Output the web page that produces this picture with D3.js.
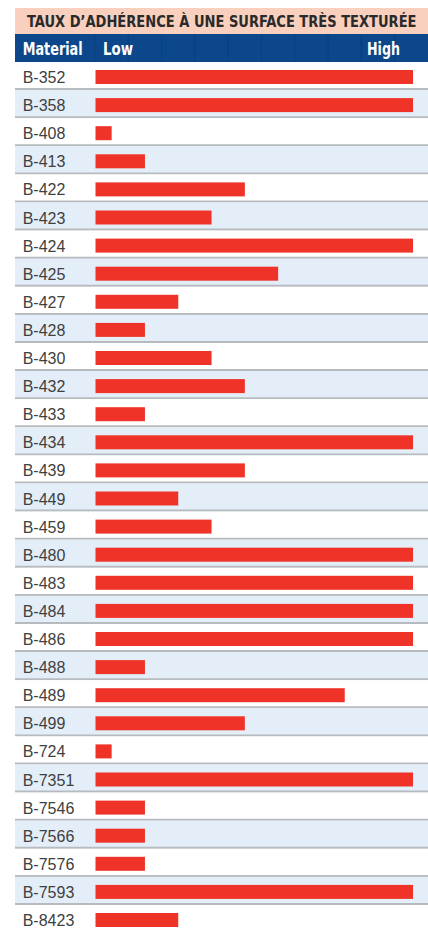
<!DOCTYPE html>
<html>
<head>
<meta charset="utf-8">
<script src="https://cdn.jsdelivr.net/npm/d3@7"></script>
<style>
  body { margin: 0; background: #fff; }
  svg { display: block; }
</style>
</head>
<body>
<svg id="chart" width="428" height="928"></svg>
<script>
const title = "TAUX D\u2019ADHÉRENCE À UNE SURFACE TRÈS TEXTURÉE";
const headers = ["Material", "Low", "High"];

const materials = ["B-352", "B-358", "B-408", "B-413", "B-422", "B-423", "B-424", "B-425",
  "B-427", "B-428", "B-430", "B-432", "B-433", "B-434", "B-439", "B-449", "B-459",
  "B-480", "B-483", "B-484", "B-486", "B-488", "B-489", "B-499", "B-724", "B-7351",
  "B-7546", "B-7566", "B-7576", "B-7593", "B-8423"];

// adhesion level on a 0-10 scale
const adhesion = [9.55, 9.55, 0.5, 1.5, 4.5, 3.5, 9.55, 5.5,
  2.5, 1.5, 3.5, 4.5, 1.5, 9.55, 4.5, 2.5, 3.5,
  9.55, 9.55, 9.55, 9.55, 1.5, 7.5, 4.5, 0.5, 9.55,
  1.5, 1.5, 1.5, 9.55, 2.5];

const data = materials.map((m, i) => ({ name: m, value: adhesion[i] }));

const svg = d3.select("#chart");
const left = 15, right = 428;
const rowTop = 62, rowH = 28.1;

const x = d3.scaleLinear().domain([0, 10]).range([95, 428]);
const y = d3.scaleBand()
  .domain(materials)
  .range([rowTop, rowTop + rowH * materials.length])
  .padding(0);

const font = "'Liberation Sans Narrow', 'DejaVu Sans Condensed', 'Liberation Sans', sans-serif";

// squeeze a text horizontally so it spans the given width
function fitWidth(sel, x0, y0, w) {
  const len = sel.node().getComputedTextLength();
  sel.attr("transform", `translate(${x0},${y0}) scale(${w / len},1)`);
}

// title band
svg.append("rect")
  .attr("x", left).attr("y", 8)
  .attr("width", right - left).attr("height", 26)
  .attr("fill", "#f9d0be");
const titleText = svg.append("text")
  .style("font-family", font).style("font-weight", "bold").style("font-size", "16px")
  .attr("fill", "#2a2a2a")
  .text(title);
fitWidth(titleText, 27, 27, 390);

// header band
svg.append("rect")
  .attr("x", left).attr("y", 34)
  .attr("width", right - left).attr("height", 28)
  .attr("fill", "#0b478a");
svg.append("g").selectAll("line")
  .data(d3.range(0, 10))
  .join("line")
  .attr("x1", d => x(d)).attr("x2", d => x(d))
  .attr("y1", 34).attr("y2", 62)
  .attr("stroke", "#0a3f7c").attr("stroke-width", 1);

const headPos = [[22.7, 60], [103, 30], [367, 33]];
svg.append("g").selectAll("text")
  .data(headers)
  .join("text")
  .style("font-family", font).style("font-weight", "bold").style("font-size", "18px")
  .attr("fill", "#fff")
  .text(d => d)
  .each(function(d, i) { fitWidth(d3.select(this), headPos[i][0], 55, headPos[i][1]); });

// rows
const rows = svg.append("g").selectAll("g")
  .data(data)
  .join("g")
  .attr("transform", d => `translate(0,${y(d.name)})`);

rows.append("rect")
  .attr("x", left).attr("y", 0)
  .attr("width", right - left).attr("height", y.bandwidth())
  .attr("fill", (d, i) => i % 2 ? "#e3eef9" : "#ffffff");

rows.append("line")
  .attr("x1", left).attr("x2", right)
  .attr("y1", y.bandwidth() - 1).attr("y2", y.bandwidth() - 1)
  .attr("stroke", "#b7bbbf").attr("stroke-width", 2);

rows.append("rect")
  .attr("x", x(0) + 0.5).attr("y", 8)
  .attr("width", d => x(d.value) - x(0) - 0.5).attr("height", 14)
  .attr("fill", "#ef3328");

rows.append("text")
  .attr("x", 22.7).attr("y", 21)
  .style("font-family", "'Liberation Sans', Arial, sans-serif").style("font-size", "16px")
  .attr("fill", "#404040")
  .text(d => d.name);
</script>
</body>
</html>
